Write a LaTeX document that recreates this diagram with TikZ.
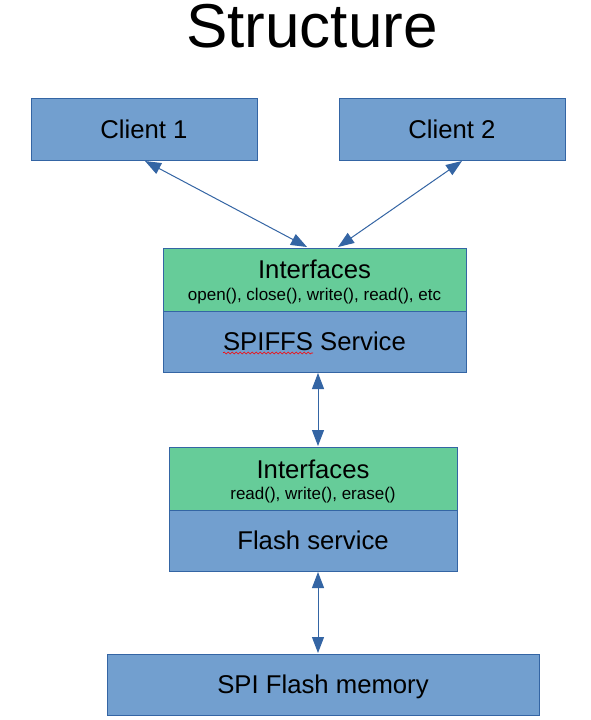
\documentclass[tikz,border=0pt]{standalone}
\usepackage{fontspec}
\setmainfont{Liberation Sans}
\usetikzlibrary{arrows.meta,calc,decorations.pathmorphing}
\definecolor{boxblue}{HTML}{729FCF}
\definecolor{boxgreen}{HTML}{66CC99}
\definecolor{edgeblue}{HTML}{3465A4}
\begin{document}
\begin{tikzpicture}[x=1pt,y=-1pt,
  box/.style={draw=edgeblue, line width=1pt, fill=boxblue, rectangle, inner sep=0pt, outer sep=0pt,
    font=\fontsize{25.7}{28}\selectfont, text height=18.4pt, text depth=0pt},
  gbox/.style={box, fill=boxgreen},
  biglbl/.style={font=\fontsize{25.7}{28}\selectfont, inner sep=0pt, anchor=base},
  smalllbl/.style={font=\fontsize{17}{20}\selectfont, inner sep=0pt, anchor=base},
  arr/.style={draw=edgeblue, line width=1pt, {Triangle[length=16pt,width=12pt]}-{Triangle[length=16pt,width=12pt]}, edgeblue}
]
\useasboundingbox (0,0) rectangle (591,720);
\fill[white] (0,0) rectangle (591,720);

\node[font=\fontsize{62}{66}\selectfont, inner sep=0pt, anchor=base] (title) at (312,47) {Structure};

\node[box, minimum width=226pt, minimum height=62pt] (c1) at (144,129) {Client 1};
\node[box, minimum width=226pt, minimum height=62pt] (c2) at (452,129) {Client 2};

\node[gbox, minimum width=303pt, minimum height=63pt] (if1) at (314.5,279.5) {};
\node[box, minimum width=303pt, minimum height=61pt] (svc1) at (314.5,341.5) {SPIFFS Service};
\node[biglbl] (if1t) at (314.5,278) {Interfaces};
\node[smalllbl] (if1s) at (314.5,300) {open(), close(), write(), read(), etc};

\node[gbox, minimum width=288pt, minimum height=63pt] (if2) at (313,478.5) {};
\node[box, minimum width=288pt, minimum height=61pt] (fs) at (313,540.5) {Flash service};
\node[biglbl] (if2t) at (313,478) {Interfaces};
\node[smalllbl] (if2s) at (313,499) {read(), write(), erase()};

\node[box, minimum width=432pt, minimum height=61pt] (spi) at (323,684.5) {SPI Flash memory};

\draw[red, line width=0.6pt, decorate, decoration={snake, amplitude=1pt, segment length=4pt}] (223,353) -- (313,353);

\draw[arr] ($(c1.south west)+(114,1)$) -- ($(if1.north west)+(144,-1)$);
\draw[arr] ($(c2.south west)+(123,1)$) -- ($(if1.north west)+(175,-1)$);
\draw[arr] ($(svc1.south west)+(155,1)$) -- ($(if2.north west)+(149,-1)$);
\draw[arr] ($(fs.south west)+(149,1)$) -- ($(spi.north west)+(211,-1)$);
\end{tikzpicture}
\end{document}
